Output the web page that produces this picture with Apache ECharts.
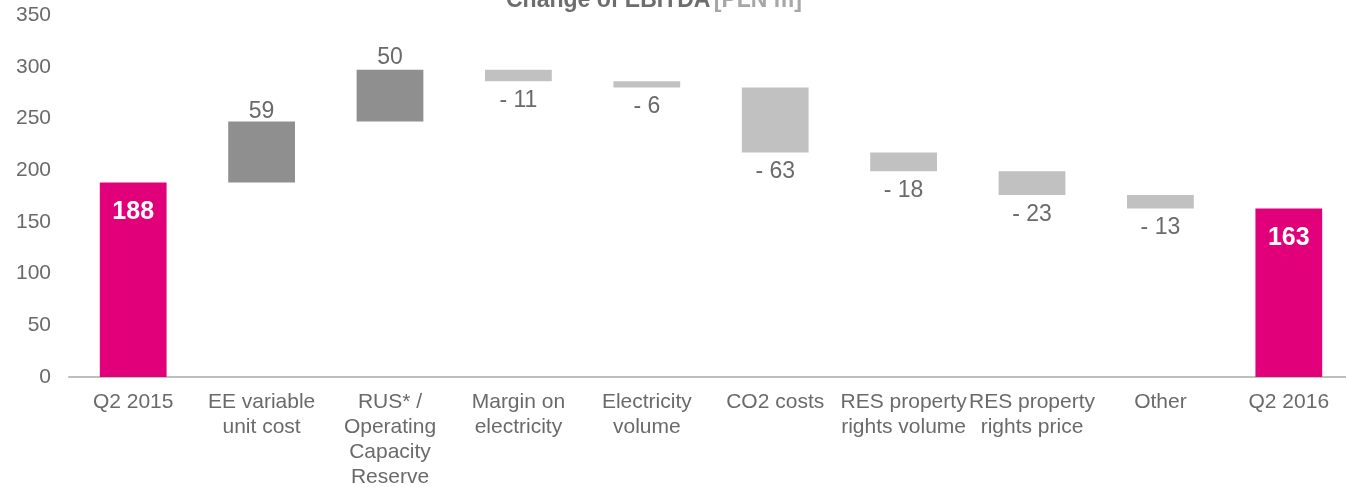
<!DOCTYPE html>
<html>
<head>
<meta charset="utf-8">
<script src="https://cdn.jsdelivr.net/npm/echarts@6/dist/echarts.min.js"></script>
<style>
  html, body { margin: 0; padding: 0; background: #ffffff; }
  #chart { width: 1346px; height: 487px; }
</style>
</head>
<body>
<div id="chart"></div>
<script>
// EBITDA bridge, Q2 2015 -> Q2 2016 (PLN m)
const categories = [
  'Q2 2015', 'EE variable\nunit cost', 'RUS* /\nOperating\nCapacity\nReserve',
  'Margin on\nelectricity', 'Electricity\nvolume', 'CO2 costs',
  'RES property\nrights volume', 'RES property\nrights price', 'Other', 'Q2 2016'
];
const startValue = 188;
const changes = [59, 50, -11, -6, -63, -18, -23, -13];
const endValue = 163;
const yTicks = [0, 50, 100, 150, 200, 250, 300, 350];

// Build the stacked layers of the waterfall from the deltas
const baseLayer = [], upLayer = [], downLayer = [], totalLayer = [];
totalLayer.push(startValue);
baseLayer.push('-'); upLayer.push('-'); downLayer.push('-');
let running = startValue;
changes.forEach((d, i) => {
  if (d >= 0) {
    baseLayer.push(running);
    // the first increase label sits a little closer to its bar
    upLayer.push(i === 0 ? { value: d, label: { distance: -2 } } : d);
    downLayer.push('-');
    running += d;
  } else {
    running += d;
    baseLayer.push(running); upLayer.push('-'); downLayer.push(-d);
  }
  totalLayer.push('-');
});
baseLayer.push('-'); upLayer.push('-'); downLayer.push('-');
totalLayer.push(endValue);

const FONT = 'Liberation Sans, Arial, sans-serif';
const textGray = '#6a6a6a';
const chart = echarts.init(document.getElementById('chart'));
chart.setOption({
  animation: false,
  backgroundColor: '#ffffff',
  textStyle: { fontFamily: FONT },
  graphic: [{
    type: 'text',
    left: 506,
    top: -11,
    style: {
      text: '{a|Change of EBITDA} {b|[PLN m]}',
      rich: {
        a: { fontSize: 23, fontWeight: 'bold', fill: '#6d6d6d', fontFamily: FONT },
        b: { fontSize: 23, fontWeight: 'bold', fill: '#a6a6a6', fontFamily: FONT }
      }
    }
  }],
  grid: {
    left: 69, top: 15, width: 1284, bottom: 110,
    containLabel: false, outerBoundsMode: 'none'
  },
  xAxis: {
    type: 'category',
    data: categories,
    axisLine: { show: true, lineStyle: { color: '#bfbfbf', width: 2 } },
    axisTick: { show: false },
    axisLabel: {
      interval: 0, color: textGray, fontSize: 21, lineHeight: 25, margin: 13,
      fontFamily: FONT, hideOverlap: false
    }
  },
  yAxis: {
    type: 'value', min: 0, max: 350, interval: 50,
    axisLine: { show: false }, axisTick: { show: false },
    splitLine: { show: false },
    axisLabel: {
      color: textGray, fontSize: 21, margin: 18, fontFamily: FONT,
      formatter: v => yTicks.includes(v) ? String(v) : ''
    }
  },
  series: [
    {
      name: 'base', type: 'bar', stack: 'w', data: baseLayer, barWidth: '52%',
      itemStyle: { color: 'transparent' }, silent: true
    },
    {
      name: 'increase', type: 'bar', stack: 'w', data: upLayer, barWidth: '52%',
      itemStyle: { color: '#8f8f8f' },
      label: {
        show: true, position: 'top', distance: 1, color: textGray, fontSize: 23,
        fontFamily: FONT
      }
    },
    {
      name: 'decrease', type: 'bar', stack: 'w', data: downLayer, barWidth: '52%',
      itemStyle: { color: '#c1c1c1' },
      label: {
        show: true, position: 'bottom', distance: 8, color: textGray, fontSize: 23,
        fontFamily: FONT,
        formatter: p => '- ' + p.value
      }
    },
    {
      name: 'total', type: 'bar', stack: 'w', data: totalLayer, barWidth: '52%',
      itemStyle: { color: '#e2007a' },
      label: {
        show: true, position: 'insideTop', distance: 17, color: '#ffffff',
        fontSize: 25, fontWeight: 'bold', fontFamily: FONT
      }
    }
  ]
});
</script>
</body>
</html>
